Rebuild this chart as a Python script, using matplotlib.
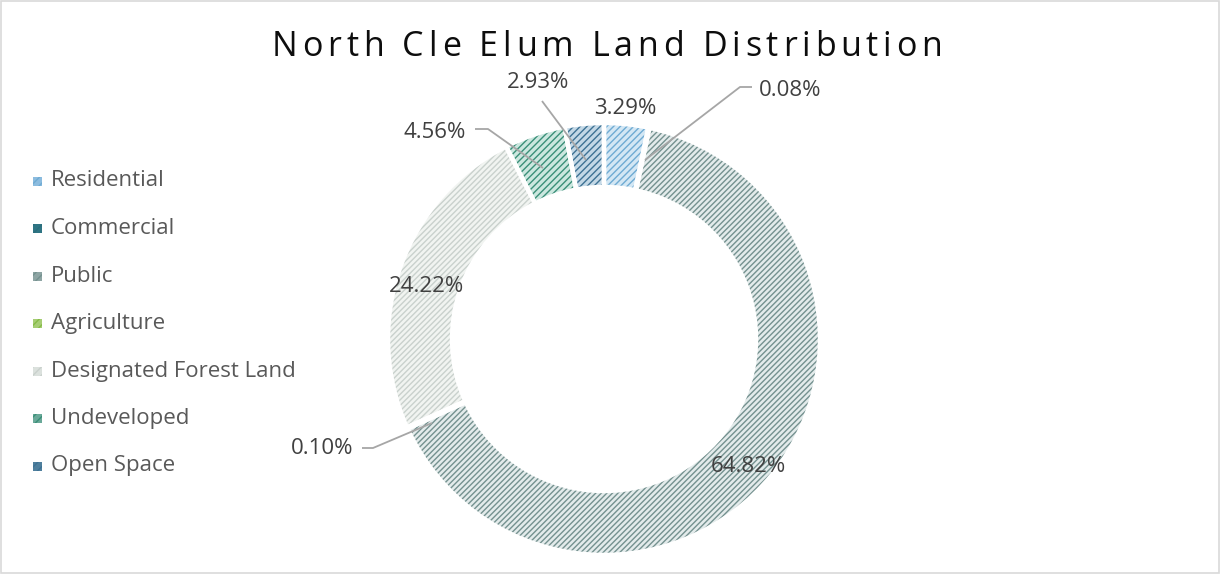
import matplotlib
matplotlib.use("Agg")
import matplotlib.pyplot as plt
from matplotlib.patches import Rectangle

# ---- data ----
categories = ["Residential", "Commercial", "Public", "Agriculture",
              "Designated Forest Land", "Undeveloped", "Open Space"]
shares = [3.29, 0.08, 64.82, 0.10, 24.22, 4.56, 2.93]
title = "North Cle Elum Land Distribution"

# ---- styling ----
face_colors = ["#d3e7f4", "#b9d6dd", "#e3ebeb", "#d8ebbf", "#f1f4f1", "#cbe7df", "#c3d8e6"]
hatch_colors = ["#6fabd3", "#2b6e7d", "#74918f", "#86bb47", "#c9d1cd", "#3a8f78", "#3e7294"]
hatches = ["/////", "/////", "//////", "/////", "//////", "/////", "/////"]
legend_marker = ["#8cbcdf", "#2f7584", "#8ea5a4", "#a6cd74", "#dbe1dd", "#6aa999", "#4f7f9d"]

W, H = 1220, 575
FONT = ["Open Sans", "DejaVu Sans"]
plt.rcParams["hatch.linewidth"] = 1.0

fig = plt.figure(figsize=(W / 100, H / 100), dpi=100)
ax = fig.add_axes([0, 0, 1, 1])


def Y(py):
    return H - py


cx, cy, R, ring = 604, Y(339), 216, 64

# base ring (fill colours)
base, _ = ax.pie(shares, colors=face_colors, startangle=90, counterclock=False,
                 center=(cx, cy), radius=R, frame=True,
                 wedgeprops=dict(width=ring, linewidth=0))
# hatch overlay
over, _ = ax.pie(shares, colors=face_colors, startangle=90, counterclock=False,
                 center=(cx, cy), radius=R, frame=True,
                 wedgeprops=dict(width=ring, linewidth=0))
for w, hc, h in zip(over, hatch_colors, hatches):
    w.set_facecolor("none")
    w.set_edgecolor(hc)
    w.set_hatch(h)
    w.set_linewidth(0)
# white separators
sep, _ = ax.pie(shares, colors=face_colors, startangle=90, counterclock=False,
                center=(cx, cy), radius=R, frame=True,
                wedgeprops=dict(width=ring, linewidth=3.2, edgecolor="white", fill=False))
ax.set_xlim(0, W)
ax.set_ylim(0, H)
ax.set_aspect("equal")
ax.axis("off")

# ---- data labels ----
lab_color = "#404040"
lead_color = "#a6a6a6"
label_pos = [(625, 108), (790, 90), (748, 466), (322, 449),
             (427, 287), (435, 132), (538, 82)]
leaders = {
    1: [(752, 87), (740, 87), (645, 160)],
    3: [(362, 448), (373, 448), (432, 423)],
    5: [(475, 129), (488, 129), (543, 168)],
    6: [(542, 101), (586, 160)],
}
for i, (v, (px, py)) in enumerate(zip(shares, label_pos)):
    ax.text(px, Y(py), f"{v:.2f}%", ha="center", va="center", fontsize=16,
            family=FONT, color=lab_color, zorder=5)
for i, pts in leaders.items():
    ax.plot([p[0] for p in pts], [Y(p[1]) for p in pts], color=lead_color,
            lw=1.3, zorder=4, solid_capstyle="butt")

# ---- legend ----
row0, drow = 181, 47.5
for i, name in enumerate(categories):
    ry = row0 + i * drow
    ax.add_patch(Rectangle((33, Y(ry) - 4.5), 9, 9, facecolor=legend_marker[i],
                           edgecolor="none", zorder=5))
    ax.add_patch(Rectangle((33, Y(ry) - 4.5), 9, 9, facecolor="none",
                           edgecolor=hatch_colors[i], hatch="////", lw=0, zorder=6))
    ax.text(51, Y(ry), name, ha="left", va="center", fontsize=16, family=FONT,
            color="#595959")

# ---- title with letter spacing ----
fig.canvas.draw()
rend = fig.canvas.get_renderer()
tsize = 24.5


def adv(s):
    t = ax.text(0, 0, s + "|", fontsize=tsize, family=FONT)
    w = t.get_window_extent(rend).width
    t.remove()
    return w


bar_w = adv("")
natural = adv(title) - bar_w
target = 670
gap = (target - natural) / (len(title) - 1)
x0 = 607 - target / 2
for i, ch in enumerate(title):
    if ch == " ":
        continue
    xi = x0 + (adv(title[:i]) - bar_w) + i * gap
    ax.text(xi, Y(47), ch, ha="left", va="center", fontsize=tsize, family=FONT,
            color="#0d0d0d")

# ---- chart border ----
ax.add_patch(Rectangle((0.5, Y(572.5)), 1218, 572, facecolor="none",
                       edgecolor="#d9d9d9", lw=1.2, zorder=10))

fig.savefig("out.png", dpi=100)
